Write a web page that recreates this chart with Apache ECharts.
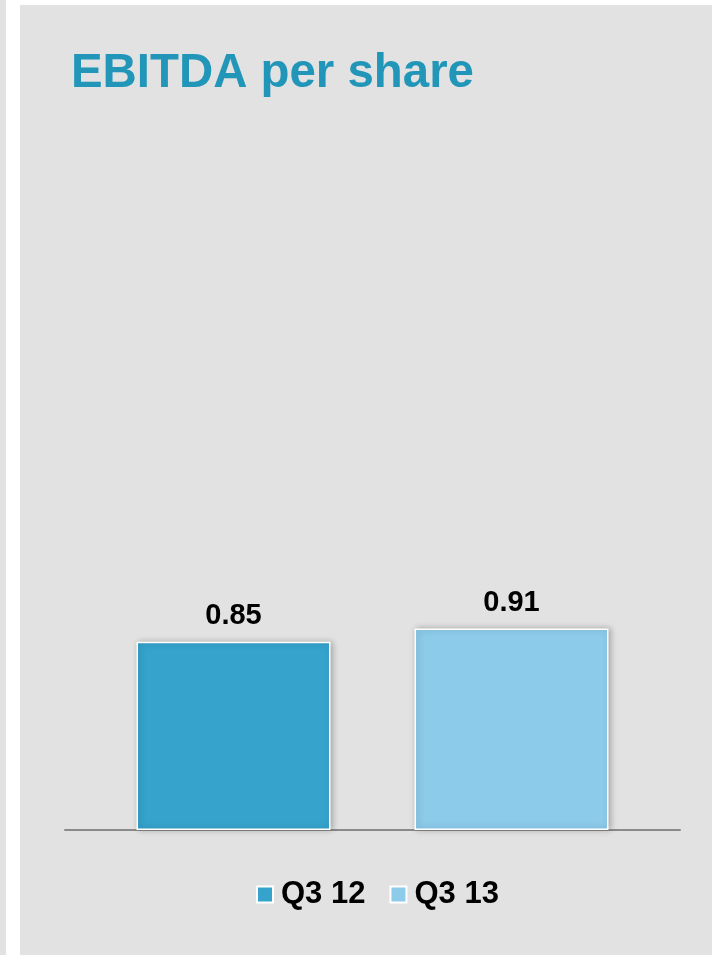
<!DOCTYPE html>
<html>
<head>
<meta charset="utf-8">
<style>
html,body{margin:0;padding:0;background:#fff;}
#chart{width:712px;height:955px;}
</style>
<script src="https://cdn.jsdelivr.net/npm/echarts@6/dist/echarts.min.js"></script>
</head>
<body>
<div id="chart"></div>
<script>
var categories = ['EBITDA per share'];
var seriesNames = ['Q3 12', 'Q3 13'];
var q312Values = [0.85];
var q313Values = [0.91];
var seriesColors = ['#35a3cc', '#8dcbeb'];

var chart = echarts.init(document.getElementById('chart'));
var font = '"Liberation Sans", Arial, sans-serif';
chart.setOption({
  backgroundColor: '#ffffff',
  animation: false,
  graphic: [
    { type: 'rect', z: -10, silent: true, shape: { x: 0, y: 0, width: 6, height: 955 }, style: { fill: '#e2e2e2' } },
    { type: 'rect', z: -10, silent: true, shape: { x: 20, y: 5, width: 692, height: 950 }, style: { fill: '#e2e2e2' } }
  ],
  title: {
    text: 'EBITDA per share',
    left: 71,
    top: 50,
    padding: 0,
    textStyle: { color: '#2196b8', fontSize: 47.4, fontWeight: 'bold', fontFamily: font }
  },
  legend: {
    data: seriesNames,
    left: 256,
    top: 879,
    padding: 0,
    itemWidth: 16,
    itemHeight: 16,
    itemGap: 24,
    icon: 'rect',
    textStyle: { color: '#000', fontSize: 31, fontWeight: 'bold', fontFamily: font, padding: [0, 0, 0, 3] }
  },
  grid: { left: 65, right: 32, top: 166, bottom: 125 },
  xAxis: {
    type: 'category',
    data: categories,
    axisLine: { lineStyle: { color: '#8a8a8a', width: 2 } },
    axisTick: { show: false },
    axisLabel: { show: false }
  },
  yAxis: {
    type: 'value',
    min: 0,
    max: 3,
    show: false,
    splitLine: { show: false }
  },
  series: [
    {
      name: seriesNames[0],
      type: 'bar',
      data: q312Values,
      barWidth: 194,
      barGap: '43.3%',
      itemStyle: { color: seriesColors[0], borderColor: '#ffffff', borderWidth: 1.5, shadowBlur: 6, shadowColor: 'rgba(0,0,0,0.25)', shadowOffsetX: 2 },
      label: { show: true, position: 'top', distance: 11, color: '#000', fontSize: 29, fontWeight: 'bold', fontFamily: font, formatter: function (p) { return p.value.toFixed(2); } }
    },
    {
      name: seriesNames[1],
      type: 'bar',
      data: q313Values,
      barWidth: 194,
      itemStyle: { color: seriesColors[1], borderColor: '#ffffff', borderWidth: 1.5, shadowBlur: 6, shadowColor: 'rgba(0,0,0,0.25)', shadowOffsetX: 2 },
      label: { show: true, position: 'top', distance: 11, color: '#000', fontSize: 29, fontWeight: 'bold', fontFamily: font, formatter: function (p) { return p.value.toFixed(2); } }
    }
  ]
});
</script>
</body>
</html>
